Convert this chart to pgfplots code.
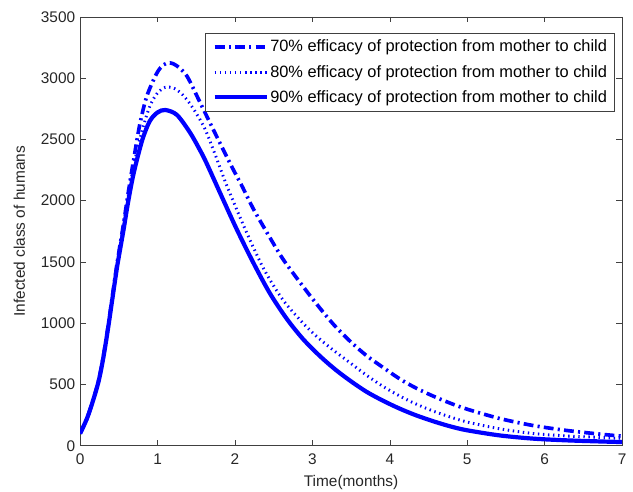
\documentclass[border=0pt]{standalone}
\usepackage{pgfplots}
\pgfplotsset{compat=1.18}
\usepackage{fontspec}
\setmainfont{Liberation Sans}
\begin{document}
\begin{tikzpicture}
\begin{axis}[
  name=ax,
  scale only axis,
  width=385.4bp, height=305bp,
  xmin=0, xmax=7, ymin=0, ymax=3500,
  xtick={0,1,...,7},
  ytick={0,500,...,3500},
  tick align=inside,
  major tick length=4bp,
  /pgf/number format/assume math mode=true,
  /pgf/number format/1000 sep={},
  tick label style={font=\fontsize{11}{13}\selectfont, black!85},
  xticklabel style={yshift=-2.5pt},
  label style={font=\fontsize{11}{13}\selectfont, black!85},
  xlabel={Time(months)},
  ylabel={Infected class of humans},
  xlabel style={yshift=-0.5pt},
  ylabel style={yshift=4.5pt},
  axis line style={black!75},
  every tick/.style={black!75},
  legend cell align=left,
  legend style={at={(0.987,0.963)}, anchor=north east, draw=black!75,
    font=\fontsize{11.7}{14}\selectfont, inner xsep=5pt, inner ysep=4pt, row sep=6pt,
    nodes={inner xsep=0.5pt, inner ysep=1pt}},
  legend image code/.code={\draw[#1] (0cm,0cm) -- (37.5bp,0cm);},
]
\addplot[blue, line width=2.6pt, smooth, dash pattern=on 7bp off 3bp on 1.5bp off 3bp] coordinates {
(0,100) (0.09,225) (0.17,378) (0.24,535) (0.30,730) (0.36,970) (0.42,1235) (0.48,1500)
(0.56,1810) (0.62,2060) (0.69,2330) (0.77,2620) (0.86,2850) (0.99,3040) (1.08,3110) (1.16,3125)
(1.25,3100) (1.38,3016) (1.55,2800) (1.72,2580) (1.94,2300) (2.09,2120) (2.24,1930)
(2.45,1700) (2.62,1523) (2.84,1333) (3.05,1160) (3.28,985) (3.50,845) (3.70,735) (3.91,640)
(4.13,545) (4.34,470) (4.56,405) (4.77,350) (4.99,300) (5.42,222) (5.85,165)
(6.28,125) (6.71,95) (7,78)
};
\addlegendentry{70\% efficacy of protection from mother to child}
\addplot[blue, line width=2.1pt, smooth, dash pattern=on 1bp off 2.6bp] coordinates {
(0,100) (0.09,225) (0.17,377) (0.24,532) (0.30,725) (0.36,965) (0.42,1228) (0.48,1490)
(0.56,1790) (0.62,2030) (0.69,2280) (0.80,2570) (0.90,2770) (1.00,2880) (1.10,2925) (1.20,2920)
(1.30,2880) (1.42,2790) (1.55,2660) (1.63,2560) (1.76,2350) (1.89,2130) (2.13,1770)
(2.37,1445) (2.62,1190) (2.88,1000) (3.05,895) (3.25,790) (3.48,680) (3.70,575) (3.91,485)
(4.13,405) (4.34,340) (4.56,283) (4.77,237) (4.99,195) (5.42,138) (5.85,100)
(6.28,80) (6.71,68) (7,60)
};
\addlegendentry{80\% efficacy of protection from mother to child}
\addplot[blue, line width=3pt, smooth] coordinates {
(0,100) (0.09,225) (0.17,375) (0.24,530) (0.30,720) (0.36,955) (0.42,1215) (0.48,1470)
(0.56,1760) (0.62,1990) (0.69,2220) (0.80,2490) (0.90,2650) (1.00,2720) (1.10,2740)
(1.25,2700) (1.42,2555) (1.55,2410) (1.63,2310) (1.81,2060) (2.02,1770) (2.24,1490)
(2.45,1245) (2.67,1035) (2.88,870) (3.10,730) (3.30,620) (3.50,525) (3.70,440) (3.91,368)
(4.13,302) (4.34,248) (4.56,200) (4.77,160) (4.99,127) (5.42,84) (5.85,58) (6.28,44)
(6.71,35) (7,30)
};
\addlegendentry{90\% efficacy of protection from mother to child}
\end{axis}
\pgfresetboundingbox
\path[use as bounding box] ([shift={(-57bp,-32.7bp)}]ax.south west) rectangle ([shift={(7.8bp,12bp)}]ax.north east);
\end{tikzpicture}
\end{document}
